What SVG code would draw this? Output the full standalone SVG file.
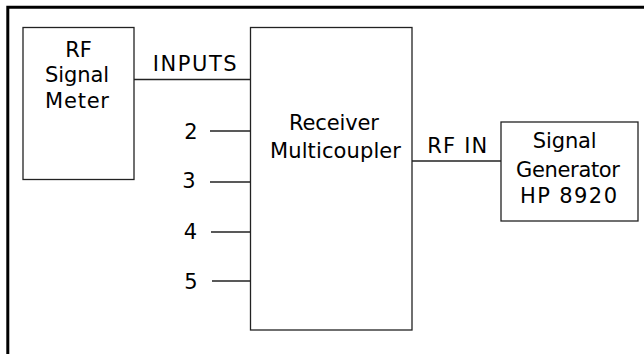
<svg xmlns="http://www.w3.org/2000/svg" width="644" height="354" viewBox="0 0 644 354">
<style>
.frame{fill:none;stroke:#000;stroke-width:3}
.box{fill:#fff;stroke:#222;stroke-width:1.3}
.wire{fill:none;stroke:#222;stroke-width:1.3}
text{font-family:"DejaVu Sans","Liberation Sans",Arial,sans-serif;font-size:21px;fill:#000}
.c{text-anchor:middle}
</style>
<rect width="644" height="354" fill="#fff"/>
<path class="frame" d="M7.8,354 V7.3 H644"/>
<g id="connectors">
<path class="wire" d="M134,79.5 H250"/>
<path class="wire" d="M210,131 H250"/>
<path class="wire" d="M210,182 H250"/>
<path class="wire" d="M211,232 H250"/>
<path class="wire" d="M212,281 H250"/>
<path class="wire" d="M412,161 H501"/>
<text x="152.7" y="71" textLength="84" lengthAdjust="spacing">INPUTS</text>
<text x="427.3" y="153" textLength="60" lengthAdjust="spacing">RF IN</text>
<text class="c" x="191" y="139">2</text>
<text class="c" x="189" y="187.5">3</text>
<text class="c" x="190.5" y="239">4</text>
<text class="c" x="191" y="288.5">5</text>
</g>
<g id="rf-signal-meter">
<rect class="box" x="23" y="27.5" width="111" height="152"/>
<text class="c" x="78.5" y="57.3">RF</text>
<text x="45" y="82" textLength="64" lengthAdjust="spacing">Signal</text>
<text x="45" y="108" textLength="64" lengthAdjust="spacing">Meter</text>
</g>
<g id="receiver-multicoupler">
<rect class="box" x="250.5" y="27.5" width="161.5" height="302.5"/>
<text x="289" y="130" textLength="90" lengthAdjust="spacing">Receiver</text>
<text x="270" y="158" textLength="131" lengthAdjust="spacing">Multicoupler</text>
</g>
<g id="signal-generator">
<rect class="box" x="501" y="122" width="137" height="99"/>
<text x="532.7" y="147.7" textLength="64" lengthAdjust="spacing">Signal</text>
<text x="516" y="176.7" textLength="104" lengthAdjust="spacing">Generator</text>
<text x="520" y="203.3" textLength="97" lengthAdjust="spacing">HP 8920</text>
</g>
</svg>
